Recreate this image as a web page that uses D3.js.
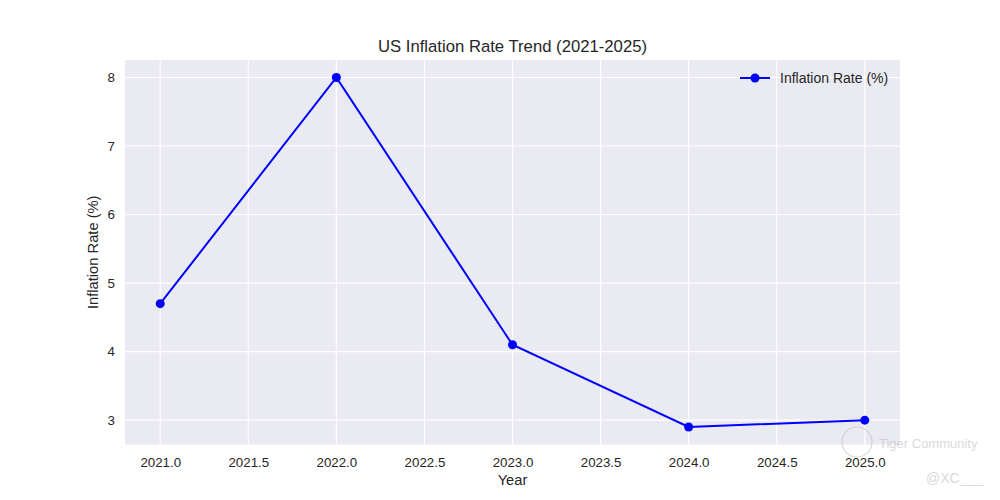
<!DOCTYPE html>
<html><head><meta charset="utf-8">
<script src="https://cdn.jsdelivr.net/npm/d3@7"></script>
<style>body{margin:0;background:#fff}svg{display:block}text{font-family:"Liberation Sans",Arial,sans-serif}</style>
</head><body><svg id="c" width="1000" height="500"></svg>
<script>
const years = [2021, 2022, 2023, 2024, 2025];
const inflation = [4.7, 8.0, 4.1, 2.9, 3.0];
const xTicks = [2021.0, 2021.5, 2022.0, 2022.5, 2023.0, 2023.5, 2024.0, 2024.5, 2025.0];
const yTicks = [3, 4, 5, 6, 7, 8];
const seriesName = "Inflation Rate (%)";

const svg = d3.select("#c");
const L = 125, R = 900, T = 60, B = 444.5;
const x = d3.scaleLinear().domain([2020.8, 2025.2]).range([L, R]);
const y = d3.scaleLinear().domain([2.645, 8.255]).range([B, T]);

svg.append("rect").attr("x", L).attr("y", T).attr("width", R - L).attr("height", B - T).attr("fill", "#eaeaf2");

const g = svg.append("g");
g.selectAll(".gx").data(xTicks).join("line")
  .attr("x1", d => x(d)).attr("x2", d => x(d)).attr("y1", T).attr("y2", B)
  .attr("stroke", "#fff").attr("stroke-width", 1.1);
g.selectAll(".gy").data(yTicks).join("line")
  .attr("y1", d => y(d)).attr("y2", d => y(d)).attr("x1", L).attr("x2", R)
  .attr("stroke", "#fff").attr("stroke-width", 1.1);

const xAxis = svg.append("g").attr("transform", `translate(0,${B})`)
  .call(d3.axisBottom(x).tickValues(xTicks).tickFormat(d3.format(".1f")).tickSize(0).tickPadding(10));
const yAxis = svg.append("g").attr("transform", `translate(${L},0)`)
  .call(d3.axisLeft(y).tickValues(yTicks).tickFormat(d3.format("d")).tickSize(0).tickPadding(10));
[xAxis, yAxis].forEach(a => {
  a.select(".domain").remove();
  a.selectAll("text").attr("font-size", 13.3).attr("fill", "#262626").style("font-family", '"Liberation Sans",Arial,sans-serif');
});
xAxis.selectAll("text").attr("dy", "0.95em");

const pts = years.map((yr, i) => [yr, inflation[i]]);
svg.append("path").datum(pts)
  .attr("d", d3.line().x(d => x(d[0])).y(d => y(d[1])))
  .attr("fill", "none").attr("stroke", "#0000ff").attr("stroke-width", 2);
svg.selectAll(".pt").data(pts).join("circle")
  .attr("cx", d => x(d[0])).attr("cy", d => y(d[1])).attr("r", 4.5).attr("fill", "#0000ff");

svg.append("text").attr("x", (L + R) / 2).attr("y", 52).attr("text-anchor", "middle")
  .attr("font-size", 16.7).attr("fill", "#262626").text("US Inflation Rate Trend (2021-2025)");
svg.append("text").attr("x", (L + R) / 2).attr("y", 485).attr("text-anchor", "middle")
  .attr("font-size", 14.7).attr("fill", "#262626").text("Year");
svg.append("text").attr("transform", `translate(98,${(T + B) / 2}) rotate(-90)`).attr("text-anchor", "middle")
  .attr("font-size", 14.7).attr("fill", "#262626").text("Inflation Rate (%)");

// legend
const lg = svg.append("g");
lg.append("line").attr("x1", 740).attr("x2", 770).attr("y1", 78).attr("y2", 78).attr("stroke", "#0000ff").attr("stroke-width", 2);
lg.append("circle").attr("cx", 755).attr("cy", 78).attr("r", 4.5).attr("fill", "#0000ff");
lg.append("text").attr("x", 780).attr("y", 83).attr("font-size", 14).attr("fill", "#262626").text(seriesName);

// watermark
const wm = svg.append("g").attr("opacity", 0.55);
wm.append("circle").attr("cx", 857).attr("cy", 442).attr("r", 15).attr("fill", "none").attr("stroke", "#bbb").attr("stroke-width", 1.2);
wm.append("text").attr("x", 879).attr("y", 448).attr("font-size", 13).attr("fill", "#bbb").text("Tiger Community");
wm.append("text").attr("x", 926).attr("y", 483).attr("font-size", 14).attr("fill", "#bbb").text("@XC___");
</script></body></html>
